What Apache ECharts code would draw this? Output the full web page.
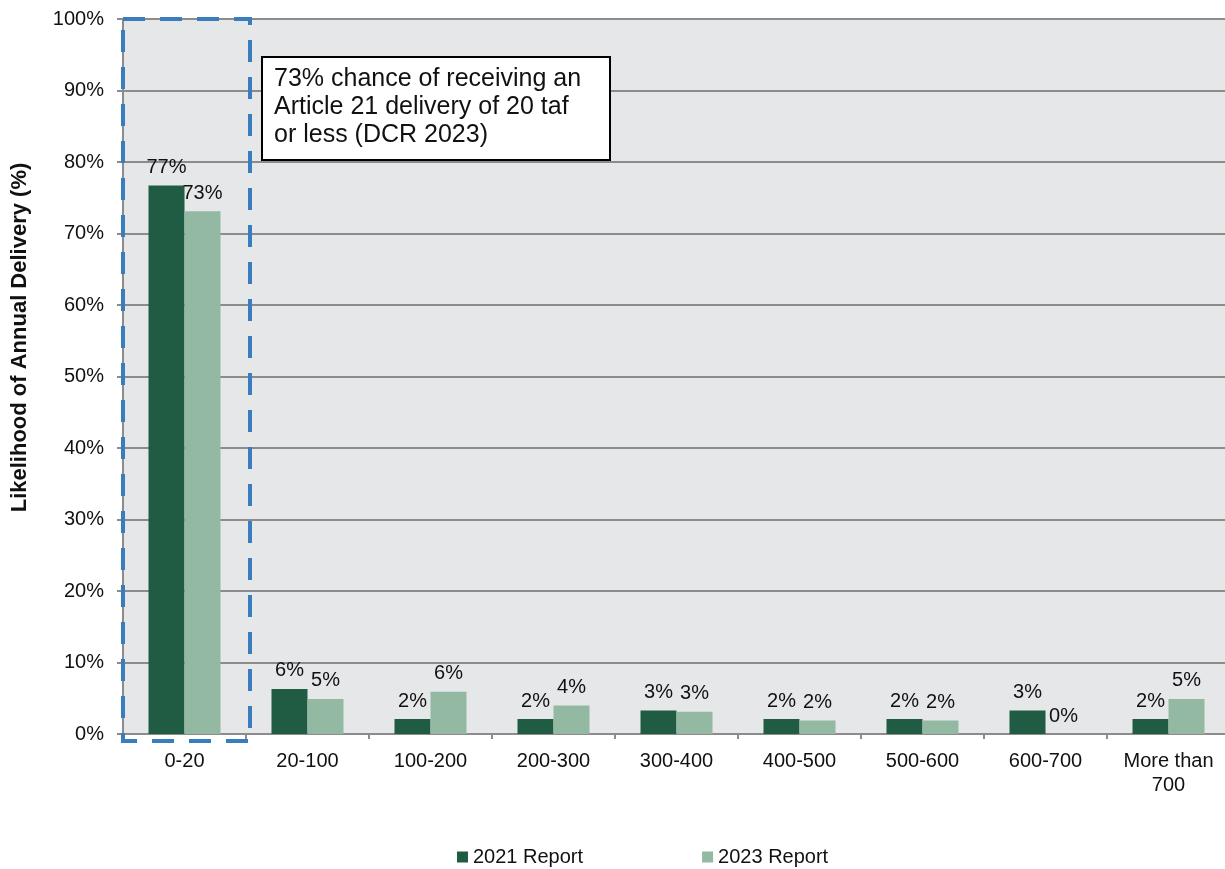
<!DOCTYPE html>
<html lang="en">
<head>
    <meta charset="utf-8">
    <title>Article 21 delivery likelihood</title>
    <script src="https://cdn.jsdelivr.net/npm/echarts@6/dist/echarts.min.js"></script>
    <style>
        html, body { margin: 0; padding: 0; background: #fff; }
        #divDelivery { width: 1225px; height: 869px; }
    </style>
</head>
<body>
<div id="divDelivery"></div>

<script>
    // bins of annual delivery (taf)
    var categories = ['0-20', '20-100', '100-200', '200-300', '300-400', '400-500', '500-600', '600-700', 'More than\n700'];

    var report2021 = [76.7, 6.3, 2.1, 2.1, 3.3, 2.1, 2.1, 3.3, 2.1];
    var report2023 = [73.1, 4.9, 5.9, 4.0, 3.1, 1.9, 1.9, 0, 4.9];

    var yTicks = [0, 10, 20, 30, 40, 50, 60, 70, 80, 90, 100];

    var seriesNames = ['2021 Report', '2023 Report'];
    var calloutText = '73% chance of receiving an\nArticle 21 delivery of 20 taf\nor less (DCR 2023)';

    var fontFam = 'Liberation Sans, Arial, sans-serif';

    function loadChart() {
        var myChart = echarts.init(document.getElementById('divDelivery'));

        var barLabel = {
            show: true,
            position: 'top',
            distance: 8,
            color: '#111',
            fontSize: 20,
            fontFamily: fontFam,
            formatter: function (p) { return Math.round(p.value) + '%'; }
        };

        option = {
            animation: false,
            textStyle: { fontFamily: fontFam },
            legend: {
                data: seriesNames,
                top: 842,
                left: 452,
                itemWidth: 11,
                itemHeight: 11,
                itemGap: 119,
                icon: 'rect',
                textStyle: { fontSize: 20, color: '#111', fontFamily: fontFam }
            },
            grid: {
                left: 123,
                right: -5,
                top: 19,
                bottom: 135,
                outerBoundsMode: 'none',
                show: true,
                backgroundColor: '#E6E7E9',
                borderWidth: 0
            },
            xAxis: [
                {
                    type: 'category',
                    data: categories,
                    axisLine: { show: true, lineStyle: { color: '#8C8C8C', width: 2 } },
                    axisTick: { show: true, length: 5, lineStyle: { color: '#8C8C8C', width: 2 } },
                    axisLabel: {
                        color: '#111',
                        fontSize: 20,
                        fontFamily: fontFam,
                        margin: 15,
                        lineHeight: 24
                    }
                }
            ],
            yAxis: [
                {
                    type: 'value',
                    min: yTicks[0],
                    max: yTicks[yTicks.length - 1],
                    interval: 10,
                    name: 'Likelihood of Annual Delivery (%)',
                    nameLocation: 'middle',
                    nameGap: 92,
                    nameTextStyle: {
                        fontSize: 22,
                        fontWeight: 'bold',
                        color: '#111',
                        fontFamily: fontFam,
                        padding: [0, 0, 0, 78]
                    },
                    axisLine: { show: true, lineStyle: { color: '#8C8C8C', width: 2 } },
                    axisTick: { show: true, length: 6, lineStyle: { color: '#8C8C8C', width: 2 } },
                    splitLine: { show: true, lineStyle: { color: '#8C8C8C', width: 2 } },
                    axisLabel: {
                        color: '#111',
                        fontSize: 20,
                        fontFamily: fontFam,
                        margin: 19,
                        formatter: '{value}%'
                    }
                }
            ],
            series: [
                {
                    name: seriesNames[0],
                    type: 'bar',
                    data: report2021,
                    barWidth: 36,
                    barGap: '0%',
                    label: barLabel,
                    itemStyle: { color: '#1F5C43' }
                },
                {
                    name: seriesNames[1],
                    type: 'bar',
                    data: report2023,
                    barWidth: 36,
                    barGap: '0%',
                    label: barLabel,
                    itemStyle: { color: '#93B9A2' }
                }
            ]
        };

        myChart.setOption(option);

        // dashed highlight round the first bin, sized off the axis
        var c0 = myChart.convertToPixel({ gridIndex: 0 }, [0, 100]);
        var c1 = myChart.convertToPixel({ xAxisIndex: 0 }, 1);
        var y0 = myChart.convertToPixel({ yAxisIndex: 0 }, 0);
        var bw = c1 - c0[0];

        myChart.setOption({
            graphic: [
                {
                    type: 'rect',
                    z: 100,
                    shape: { x: c0[0] - bw / 2, y: c0[1], width: bw + 4, height: y0 - c0[1] + 7 },
                    style: { fill: 'none', stroke: '#3A7DBE', lineWidth: 4, lineDash: [22, 15] }
                },
                {
                    type: 'group',
                    left: 261,
                    top: 56,
                    z: 100,
                    children: [
                        {
                            type: 'rect',
                            shape: { x: 0, y: 0, width: 348, height: 103 },
                            style: { fill: '#fff', stroke: '#000', lineWidth: 2 }
                        },
                        {
                            type: 'text',
                            x: 12,
                            y: 8,
                            style: {
                                text: calloutText,
                                fontSize: 25,
                                lineHeight: 28,
                                fontFamily: fontFam,
                                fill: '#111'
                            }
                        }
                    ]
                }
            ]
        });
    }

    loadChart();
</script>
</body>
</html>
